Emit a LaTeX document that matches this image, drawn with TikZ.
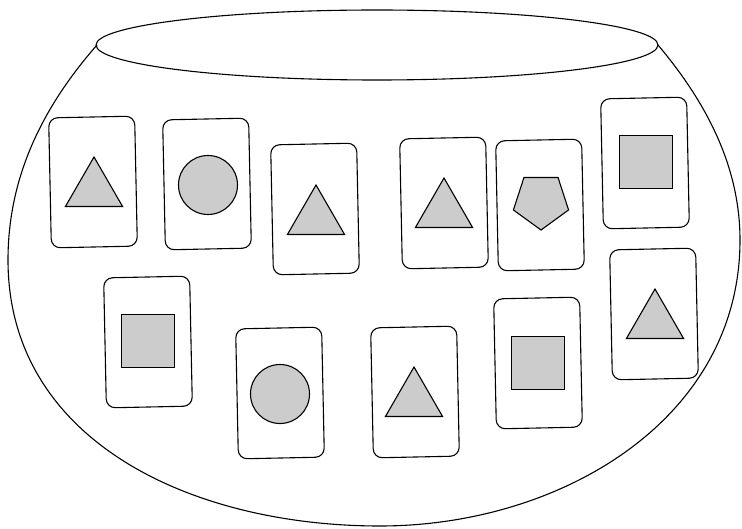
\documentclass[tikz,border=0pt]{standalone}
\usetikzlibrary{shapes.geometric}
\definecolor{shapegray}{HTML}{CCCCCC}
\begin{document}
\begin{tikzpicture}[x=1pt, y=-1pt, line width=1.1pt,
  card/.style={draw, rounded corners=9pt, minimum width=86pt, minimum height=130pt, inner sep=0pt, rotate=1.2},
  tri/.style={draw, fill=shapegray, regular polygon, regular polygon sides=3, minimum size=66pt, inner sep=0pt},
  penta/.style={draw, fill=shapegray, regular polygon, regular polygon sides=5, shape border rotate=180, minimum size=58pt, inner sep=0pt},
  sq/.style={draw, fill=shapegray, minimum size=53pt, inner sep=0pt},
  disc/.style={draw, fill=shapegray, circle, minimum size=59pt, inner sep=0pt}]
\useasboundingbox (0,0) rectangle (742,529);
% bowl
\draw (97,45) .. controls (40,110) and (8,180) .. (8,260)
  .. controls (8,440) and (190,526) .. (380,526)
  .. controls (560,526) and (740,420) .. (740,240)
  .. controls (740,160) and (700,95) .. (658,45);
\node[draw, ellipse, minimum width=562pt, minimum height=70pt, inner sep=0pt] (rim) at (377,45) {};
% top row
\node[card] (a) at (93,182) {};
\node[tri] (ta) at (94,190) {};
\node[card] (b) at (207,184) {};
\node[disc] (cb) at (208,185) {};
\node[card] (c) at (315,209) {};
\node[tri] (tc) at (316,218) {};
\node[card] (d) at (444,203) {};
\node[tri] (td) at (444,211) {};
\node[card] (e) at (540,205) {};
\node[penta] (pe) at (541,201) {};
\node[card] (f) at (645,163) {};
\node[sq] (sf) at (646,162) {};
% bottom row
\node[card] (g) at (148,342) {};
\node[sq] (sg) at (148,341) {};
\node[card] (h) at (280,393) {};
\node[disc] (ch) at (280,394) {};
\node[card] (i) at (415,392) {};
\node[tri] (ti) at (414,400) {};
\node[card] (j) at (538,363) {};
\node[sq] (sj) at (538,363) {};
\node[card] (k) at (654,314) {};
\node[tri] (tk) at (655,322) {};
\end{tikzpicture}
\end{document}
